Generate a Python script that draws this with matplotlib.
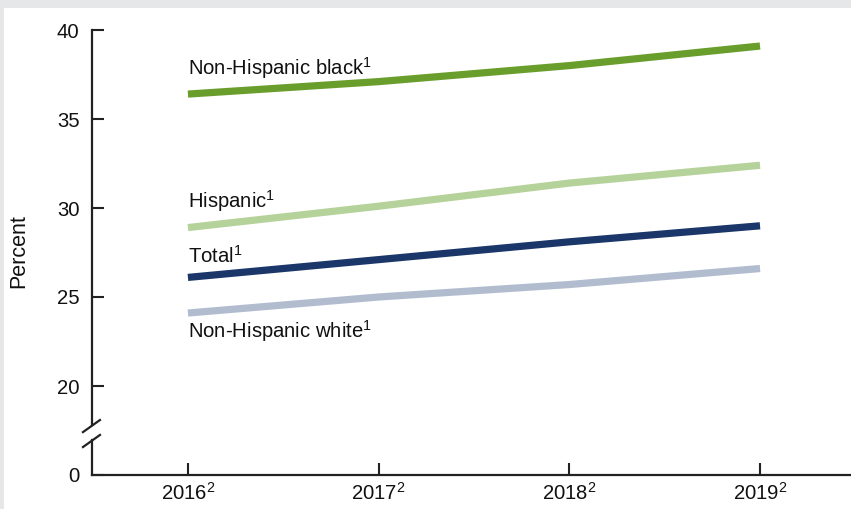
import matplotlib.pyplot as plt
from matplotlib.patches import Rectangle
from matplotlib.lines import Line2D
import matplotlib.transforms as mtransforms

plt.rcParams['font.family'] = ['Liberation Sans', 'DejaVu Sans']
plt.rcParams['mathtext.default'] = 'regular'

years = [2016, 2017, 2018, 2019]
year_labels = ['2016$^{2}$', '2017$^{2}$', '2018$^{2}$', '2019$^{2}$']
black = [36.4, 37.1, 38.0, 39.1]
hispanic = [28.9, 30.1, 31.4, 32.4]
total = [26.1, 27.1, 28.1, 29.0]
white = [24.1, 25.0, 25.7, 26.6]

ytick_vals = [15, 20, 25, 30, 35, 40]   # 15 stands in for the broken-axis 0
ytick_labels = ['0', '20', '25', '30', '35', '40']

fig = plt.figure(figsize=(8.51, 5.09), dpi=100, facecolor='#e6e7e9')
fig.patches.append(Rectangle((4 / 851, 0), 1, 1 - 8 / 509, transform=fig.transFigure,
                             facecolor='white', edgecolor='none', zorder=-10))

ax = fig.add_axes([92 / 851, 1 - 475 / 509, 1 - 92 / 851, 445 / 509])
ax.set_facecolor('none')

lw = 5.2
ax.plot(years, black, color='#6a9e2c', lw=lw, solid_capstyle='butt')
ax.plot(years, hispanic, color='#b6d29b', lw=lw, solid_capstyle='butt')
ax.plot(years, total, color='#1b3668', lw=lw, solid_capstyle='butt')
ax.plot(years, white, color='#b1bdcf', lw=lw, solid_capstyle='butt')

fs = 14.6
ax.text(2016, 37.47, 'Non-Hispanic black$^{1}$', fontsize=fs, va='baseline', color='#111111')
ax.text(2016, 30.0, 'Hispanic$^{1}$', fontsize=fs, va='baseline', color='#111111')
ax.text(2016, 26.9, 'Total$^{1}$', fontsize=fs, va='baseline', color='#111111')
ax.text(2016, 22.7, 'Non-Hispanic white$^{1}$', fontsize=fs, va='baseline', color='#111111')

ax.set_xlim(2015.497, 2019.477)
ax.set_ylim(15, 40)
ax.set_xticks(years)
ax.set_xticklabels(year_labels, fontsize=fs, color='#111111')
ax.set_yticks(ytick_vals)
ax.set_yticklabels(ytick_labels, fontsize=fs, color='#111111')
ax.tick_params(direction='in', length=8.5, width=1.5, color='#222222', pad=9)
ax.tick_params(axis='x', pad=5)

for s in ['top', 'right', 'left']:
    ax.spines[s].set_visible(False)
ax.spines['bottom'].set_linewidth(1.6)
ax.spines['bottom'].set_color('#222222')

# broken left axis
tr = mtransforms.blended_transform_factory(ax.transAxes, ax.transData)
for y0, y1 in [(40, 17.8), (16.95, 15)]:
    ax.add_line(Line2D([0, 0], [y0, y1], transform=tr, color='#222222', lw=1.6, clip_on=False))
for ya, yb in [(17.41, 18.09), (16.57, 17.25)]:
    ax.add_line(Line2D([-0.0119, 0.0105], [ya, yb], transform=tr, color='#222222', lw=1.6, clip_on=False))

fig.text(19 / 851, 1 - 251 / 509, 'Percent', rotation=90, fontsize=15.5, ha='center', va='center',
         color='#111111')

fig.savefig('out.png', dpi=100, facecolor=fig.get_facecolor())
